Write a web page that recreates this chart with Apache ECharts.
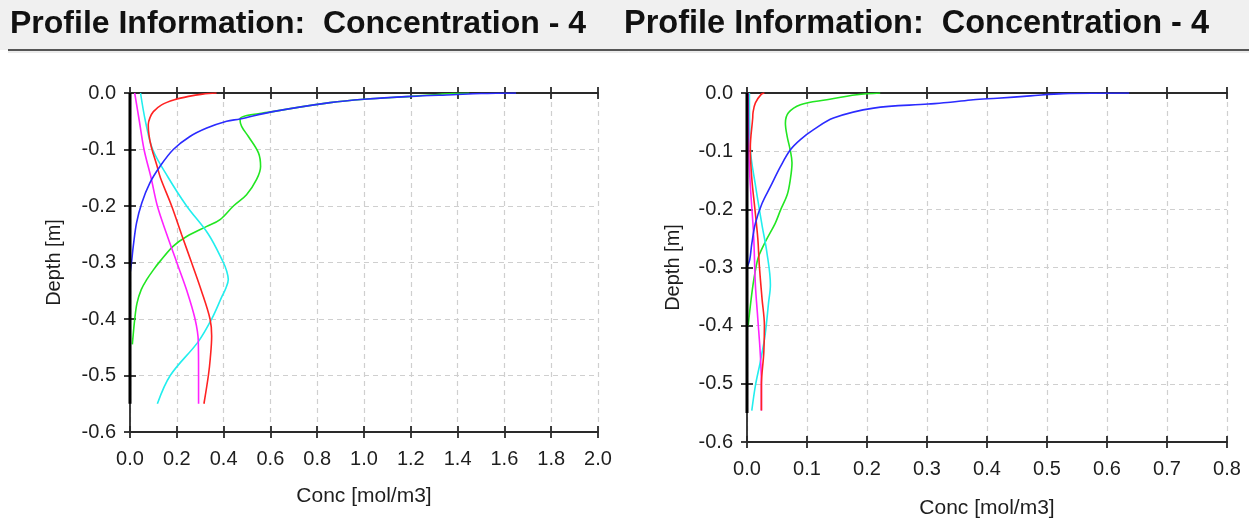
<!DOCTYPE html>
<html><head><meta charset="utf-8">
<script src="https://cdn.jsdelivr.net/npm/echarts@6/dist/echarts.min.js"></script>
<style>html,body{margin:0;padding:0;background:#fff}#c{width:1249px;height:525px}</style>
</head><body><div id="c"></div>
<script>
const titleText = 'Profile Information:  Concentration - 4';
const xName = 'Conc [mol/m3]';
const yName = 'Depth [m]';

// ---- Left panel (x: 0..2.0 step 0.2) ----
const leftX = {min: 0, max: 2.0, interval: 0.2};
const L_black_d = [0, -0.55];
const L_black_c = [0, 0];
const L_red_d = [0, -0.002, -0.006, -0.012, -0.021, -0.033, -0.044, -0.056, -0.074, -0.097, -0.127, -0.15, -0.2, -0.25, -0.3, -0.35, -0.4, -0.43, -0.47, -0.5, -0.55];
const L_red_c = [0.37, 0.31, 0.25, 0.19, 0.135, 0.10, 0.085, 0.078, 0.081, 0.092, 0.114, 0.13, 0.178, 0.22, 0.263, 0.305, 0.342, 0.349, 0.343, 0.335, 0.316];
const L_mag_d = [0, -0.05, -0.1, -0.15, -0.2, -0.25, -0.3, -0.35, -0.4, -0.44, -0.5, -0.55];
const L_mag_c = [0.02, 0.04, 0.06, 0.09, 0.117, 0.157, 0.2, 0.243, 0.278, 0.292, 0.293, 0.293];
const L_cyan_d = [0, -0.05, -0.1, -0.15, -0.2, -0.25, -0.3, -0.315, -0.33, -0.345, -0.36, -0.4, -0.44, -0.5, -0.55];
const L_cyan_c = [0.045, 0.066, 0.097, 0.164, 0.242, 0.335, 0.399, 0.413, 0.42, 0.41, 0.393, 0.349, 0.292, 0.172, 0.117];
const L_green_d = [-0.0005, -0.001, -0.003, -0.006, -0.011, -0.017, -0.033, -0.046, -0.059, -0.077, -0.106, -0.13, -0.153, -0.18, -0.2, -0.224, -0.236, -0.254, -0.271, -0.298, -0.313, -0.33, -0.348, -0.372, -0.401, -0.44, -0.445];
const L_green_c = [1.45, 1.38, 1.3, 1.2, 1.0, 0.855, 0.61, 0.47, 0.477, 0.506, 0.549, 0.558, 0.541, 0.498, 0.442, 0.385, 0.328, 0.242, 0.185, 0.128, 0.1, 0.072, 0.048, 0.03, 0.02, 0.011, 0.01];
const L_blue_d = [0, -0.001, -0.003, -0.006, -0.011, -0.017, -0.033, -0.046, -0.05, -0.062, -0.077, -0.1, -0.13, -0.159, -0.195, -0.23, -0.271, -0.298, -0.32];
const L_blue_c = [1.65, 1.5, 1.38, 1.2, 1.0, 0.855, 0.61, 0.47, 0.413, 0.328, 0.256, 0.185, 0.128, 0.085, 0.05, 0.028, 0.014, 0.007, 0.0];

// ---- Right panel (x: 0..0.8 step 0.1) ----
const rightX = {min: 0, max: 0.8, interval: 0.1};
const R_black_d = [0, -0.55];
const R_black_c = [0, 0];
const R_red_d = [0, -0.002, -0.017, -0.034, -0.043, -0.095, -0.147, -0.198, -0.25, -0.296, -0.353, -0.4, -0.446, -0.503, -0.546];
const R_red_c = [0.029, 0.024, 0.014, 0.01, 0.0095, 0.0055, 0.008, 0.013, 0.018, 0.0205, 0.025, 0.029, 0.028, 0.024, 0.024];
const R_mag_d = [0, -0.1, -0.158, -0.244, -0.33, -0.388, -0.446, -0.5, -0.546];
const R_mag_c = [0.002, 0.003, 0.0055, 0.011, 0.014, 0.018, 0.022, 0.024, 0.024];
const R_cyan_d = [0, -0.095, -0.158, -0.227, -0.273, -0.33, -0.36, -0.417, -0.463, -0.503, -0.546];
const R_cyan_c = [0.004, 0.0055, 0.014, 0.025, 0.033, 0.039, 0.036, 0.03, 0.022, 0.014, 0.008];
const R_green_d = [0, -0.003, -0.0115, -0.02, -0.034, -0.052, -0.075, -0.098, -0.12, -0.15, -0.175, -0.201, -0.224, -0.253, -0.282, -0.305, -0.33, -0.362, -0.39, -0.4];
const R_green_c = [0.222, 0.183, 0.133, 0.089, 0.069, 0.064, 0.067, 0.072, 0.075, 0.072, 0.067, 0.056, 0.047, 0.032, 0.019, 0.014, 0.01, 0.006, 0.003, 0.002];
const R_blue_d = [0, -0.001, -0.005, -0.009, -0.0115, -0.016, -0.019, -0.026, -0.043, -0.063, -0.08, -0.098, -0.127, -0.161, -0.19, -0.224, -0.259, -0.287, -0.3];
const R_blue_c = [0.637, 0.527, 0.472, 0.417, 0.377, 0.339, 0.302, 0.211, 0.144, 0.111, 0.089, 0.072, 0.0555, 0.039, 0.025, 0.014, 0.008, 0.0045, 0.0];

const depthAxis = {min: -0.6, max: 0, interval: 0.1};

const FONT = 'Liberation Sans, Arial, sans-serif';
const TXT = '#1e1e1e';
const pairs = (c, d) => c.map((v, i) => [v, d[i]]);

const leftSeries = [
  {c: L_green_c, d: L_green_d, color: '#22e622', w: 1.6},
  {c: L_cyan_c, d: L_cyan_d, color: '#22eeee', w: 1.6},
  {c: L_mag_c, d: L_mag_d, color: '#ff22ff', w: 1.6},
  {c: L_red_c, d: L_red_d, color: '#ff2222', w: 1.6},
  {c: L_blue_c, d: L_blue_d, color: '#2b2bff', w: 1.6},
  {c: L_black_c, d: L_black_d, color: '#000000', w: 3}
];
const rightSeries = [
  {c: R_green_c, d: R_green_d, color: '#22e622', w: 1.6},
  {c: R_cyan_c, d: R_cyan_d, color: '#22eeee', w: 1.6},
  {c: R_mag_c, d: R_mag_d, color: '#ff22ff', w: 1.6},
  {c: R_red_c, d: R_red_d, color: '#ff2222', w: 1.6},
  {c: R_blue_c, d: R_blue_d, color: '#2b2bff', w: 1.6},
  {c: R_black_c, d: R_black_d, color: '#000000', w: 3}
];

const lineStyle = {color: '#2a2a2a', width: 1.8};
const fmt = v => (Math.abs(v) < 1e-9 ? 0 : v).toFixed(1);

function xAxes(gridIndex, range, overlay, nameGap) {
  const common = {type: 'value', gridIndex, min: range.min, max: range.max, interval: range.interval};
  if (!overlay) {
    return [
      Object.assign({}, common, {
        position: 'bottom', name: xName, nameLocation: 'middle', nameGap,
        nameTextStyle: {fontFamily: FONT, fontSize: 21, color: TXT},
        axisLine: {show: true, onZero: false, lineStyle},
        axisTick: {show: true, inside: false, length: 6, lineStyle},
        axisLabel: {show: true, formatter: fmt, fontFamily: FONT, fontSize: 20, color: TXT, margin: 17},
        splitLine: {show: true, lineStyle: {color: '#cfcfcf', type: [5, 4], width: 1.2}}
      }),
      Object.assign({}, common, {
        position: 'top',
        axisLine: {show: true, onZero: false, lineStyle},
        axisTick: {show: true, inside: false, length: 6, lineStyle},
        axisLabel: {show: false}, splitLine: {show: false}
      })
    ];
  }
  return [
    Object.assign({}, common, {
      position: 'bottom', axisLine: {show: false, onZero: false},
      axisTick: {show: true, inside: true, length: 6, lineStyle},
      axisLabel: {show: false}, splitLine: {show: false}
    }),
    Object.assign({}, common, {
      position: 'top', axisLine: {show: false, onZero: false},
      axisTick: {show: true, inside: true, length: 6, lineStyle},
      axisLabel: {show: false}, splitLine: {show: false}
    })
  ];
}
function yAxis(gridIndex, overlay, nameGap) {
  const common = {type: 'value', gridIndex, min: depthAxis.min, max: depthAxis.max, interval: depthAxis.interval, position: 'left'};
  if (!overlay) {
    return Object.assign({}, common, {
      name: yName, nameLocation: 'middle', nameRotate: 90, nameGap,
      nameTextStyle: {fontFamily: FONT, fontSize: 20, color: TXT},
      axisLine: {show: true, onZero: false, lineStyle},
      axisTick: {show: true, inside: false, length: 6, lineStyle},
      axisLabel: {show: true, formatter: fmt, fontFamily: FONT, fontSize: 20, color: TXT, margin: 14},
      splitLine: {show: true, lineStyle: {color: '#cfcfcf', type: [5, 4], width: 1.2}}
    });
  }
  return Object.assign({}, common, {
    axisLine: {show: false, onZero: false},
    axisTick: {show: true, inside: true, length: 6, lineStyle},
    axisLabel: {show: false}, splitLine: {show: false}
  });
}

const gridL = {left: 130, top: 93, width: 468, height: 339, containLabel: false, outerBoundsMode: 'none'};
const gridR = {left: 747, top: 93, width: 480, height: 349, containLabel: false, outerBoundsMode: 'none'};

const series = [];
leftSeries.forEach(s => series.push({type: 'line', xAxisIndex: 0, yAxisIndex: 0, data: pairs(s.c, s.d), showSymbol: false, symbol: 'none', smooth: 0.35, lineStyle: {color: s.color, width: s.w}, itemStyle: {color: s.color}, animation: false, z: 3}));
rightSeries.forEach(s => series.push({type: 'line', xAxisIndex: 4, yAxisIndex: 2, data: pairs(s.c, s.d), showSymbol: false, symbol: 'none', smooth: 0.35, lineStyle: {color: s.color, width: s.w}, itemStyle: {color: s.color}, animation: false, z: 3}));

const chart = echarts.init(document.getElementById('c'), null, {renderer: 'canvas'});
chart.setOption({
  backgroundColor: '#ffffff',
  animation: false,
  graphic: [
    {type: 'rect', left: 0, top: 0, shape: {width: 1249, height: 50}, style: {fill: '#f0f0f0'}, z: -10, silent: true},
    {type: 'line', shape: {x1: 8, y1: 50, x2: 1249, y2: 50}, style: {stroke: '#555555', lineWidth: 2}, z: -9, silent: true},
    {type: 'line', shape: {x1: 8, y1: 52, x2: 1249, y2: 52}, style: {stroke: '#d8d8d8', lineWidth: 1}, z: -9, silent: true}
  ],
  title: [
    {text: titleText, left: 5, top: 3, textStyle: {fontFamily: FONT, fontSize: 32, fontWeight: 'bold', color: '#111'}},
    {text: titleText, left: 619, top: 3, textStyle: {fontFamily: FONT, fontSize: 32.5, fontWeight: 'bold', color: '#111'}}
  ],
  grid: [gridL, Object.assign({}, gridL), gridR, Object.assign({}, gridR)],
  xAxis: [].concat(xAxes(0, leftX, false, 54), xAxes(1, leftX, true), xAxes(2, rightX, false, 56), xAxes(3, rightX, true)),
  yAxis: [yAxis(0, false, 66), yAxis(1, true), yAxis(2, false, 64), yAxis(3, true)],
  series
});
</script></body></html>
